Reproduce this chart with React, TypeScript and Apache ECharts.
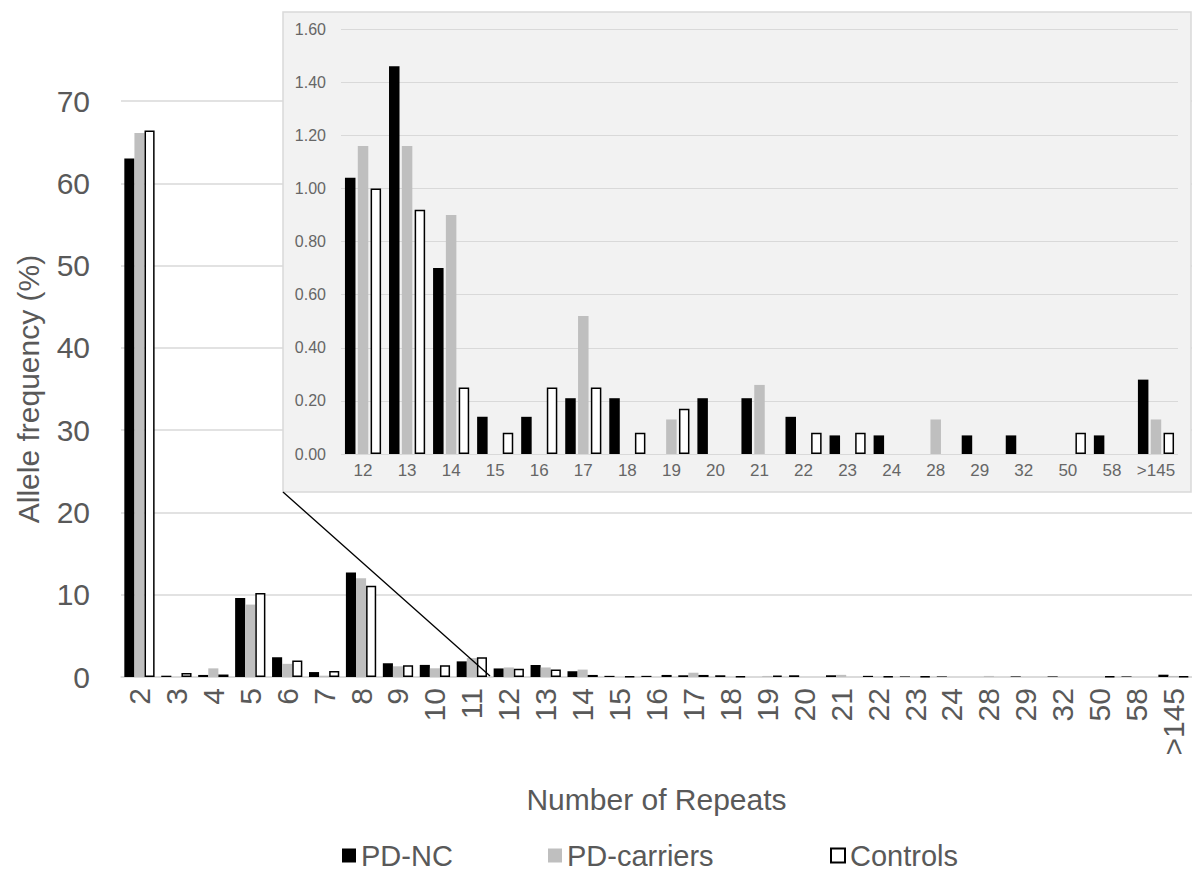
import React, { useEffect, useRef } from "react";
import * as echarts from "echarts";

const categories = ["2","3","4","5","6","7","8","9","10","11","12","13","14","15","16","17","18","19","20","21","22","23","24","28","29","32","50","58",">145"];
const pdNC = [63.0, 0.16, 0.25, 9.6, 2.4, 0.6, 12.7, 1.67, 1.47, 1.9, 1.04, 1.46, 0.70, 0.14, 0.14, 0.21, 0.21, 0, 0.21, 0.21, 0.14, 0.07, 0.07, 0, 0.07, 0.07, 0, 0.07, 0.28];
const pdCarriers = [66.1, 0, 1.05, 8.8, 1.6, 0.16, 12.0, 1.3, 1.06, 2.3, 1.16, 1.16, 0.90, 0, 0, 0.52, 0, 0.13, 0, 0.26, 0, 0, 0, 0.13, 0, 0, 0, 0, 0.13];
const controls = [66.4, 0.5, 0.3, 10.2, 2.0, 0.73, 11.1, 1.43, 1.43, 2.4, 1.00, 0.92, 0.25, 0.08, 0.25, 0.25, 0.08, 0.17, 0, 0, 0.08, 0.08, 0, 0, 0, 0, 0.08, 0, 0.08];
const insetStart = 10; // inset shows categories from "12"

const seriesNames = ["PD-NC", "PD-carriers", "Controls"];

const TEXT = "#595959";
const GRID = "#d9d9d9";
const FONT = "Liberation Sans, Arial, sans-serif";

const clean = (arr: number[]) => arr.map((v) => (v === 0 ? "-" : v));

export default function App() {
  const ref = useRef<HTMLDivElement>(null);
  useEffect(() => {
    if (!ref.current) return;
    const chart = echarts.init(ref.current, null, { renderer: "svg" });
    const styles = [
      { color: "#000000" },
      { color: "#bfbfbf" },
      { color: "#ffffff", borderColor: "#000000", borderWidth: 1.5 },
    ];
    const data = [pdNC, pdCarriers, controls];
    const insetCats = categories.slice(insetStart);

    const mainSeries = data.map((d, i) => ({
      name: seriesNames[i],
      type: "bar",
      xAxisIndex: 0,
      yAxisIndex: 0,
      data: clean(d),
      itemStyle: styles[i],
      barGap: "0%",
      barCategoryGap: "18%",
      z: 2,
    }));
    const insetSeries = data.map((d, i) => ({
      name: seriesNames[i],
      type: "bar",
      xAxisIndex: 1,
      yAxisIndex: 1,
      data: clean(d.slice(insetStart)),
      itemStyle: styles[i],
      barGap: "22%",
      barCategoryGap: "18%",
      z: 10,
    }));

    const legendLefts = [342, 548, 830];

    chart.setOption({
      animation: false,
      textStyle: { fontFamily: FONT },
      grid: [
        { left: 121, right: 0, top: 101, bottom: 194 },
        { left: 341, right: 14, top: 29, height: 425 },
      ],
      legend: seriesNames.map((n, i) => ({
        data: [n],
        left: legendLefts[i],
        top: 841,
        padding: 0,
        icon: "rect",
        itemWidth: 14,
        itemHeight: 14,
        selectedMode: false,
        textStyle: { fontSize: 29, lineHeight: 28, color: TEXT, fontFamily: FONT },
      })),
      xAxis: [
        {
          type: "category",
          gridIndex: 0,
          data: categories,
          axisLine: { show: true, lineStyle: { color: GRID, width: 1.5 } },
          axisTick: { show: false },
          axisLabel: { rotate: 90, fontSize: 30, color: TEXT, margin: 11, interval: 0, fontFamily: FONT },
          name: "Number of Repeats",
          nameLocation: "middle",
          nameGap: 107,
          nameTextStyle: { fontSize: 30, color: TEXT, fontFamily: FONT },
          z: 0,
        },
        {
          type: "category",
          gridIndex: 1,
          data: insetCats,
          axisLine: { show: false },
          axisTick: { show: false },
          axisLabel: { fontSize: 17, color: "#666666", margin: 8, interval: 0, fontFamily: FONT },
          z: 10,
        },
      ],
      yAxis: [
        {
          type: "value",
          gridIndex: 0,
          min: 0,
          max: 70,
          interval: 10,
          axisLine: { show: false },
          axisTick: { show: false },
          axisLabel: { fontSize: 30, color: TEXT, margin: 31, fontFamily: FONT },
          splitLine: { lineStyle: { color: GRID, width: 1.5 } },
          name: "Allele frequency (%)",
          nameLocation: "middle",
          nameGap: 78,
          nameTextStyle: { fontSize: 30, color: TEXT, fontFamily: FONT },
          z: 0,
        },
        {
          type: "value",
          gridIndex: 1,
          min: 0,
          max: 1.6,
          interval: 0.2,
          axisLine: { show: false },
          axisTick: { show: false },
          axisLabel: {
            fontSize: 16,
            color: "#666666",
            margin: 15,
            fontFamily: FONT,
            formatter: (v: number) => v.toFixed(2),
          },
          splitLine: { lineStyle: { color: GRID, width: 1.2 } },
          z: 10,
        },
      ],
      graphic: [
        {
          type: "rect",
          z: 5,
          shape: { x: 283, y: 12, width: 908, height: 480 },
          style: { fill: "#f2f2f2", stroke: "#d9d9d9", lineWidth: 1.5 },
        },
        {
          type: "line",
          z: 6,
          shape: { x1: 283, y1: 492, x2: 490, y2: 676 },
          style: { stroke: "#000000", lineWidth: 1.3 },
        },
      ],
      series: [...mainSeries, ...insetSeries],
    });
    return () => chart.dispose();
  }, []);
  return (
    <div
      ref={ref}
      style={{ position: "absolute", left: 0, top: 0, width: 1192, height: 871, background: "#ffffff" }}
    />
  );
}
